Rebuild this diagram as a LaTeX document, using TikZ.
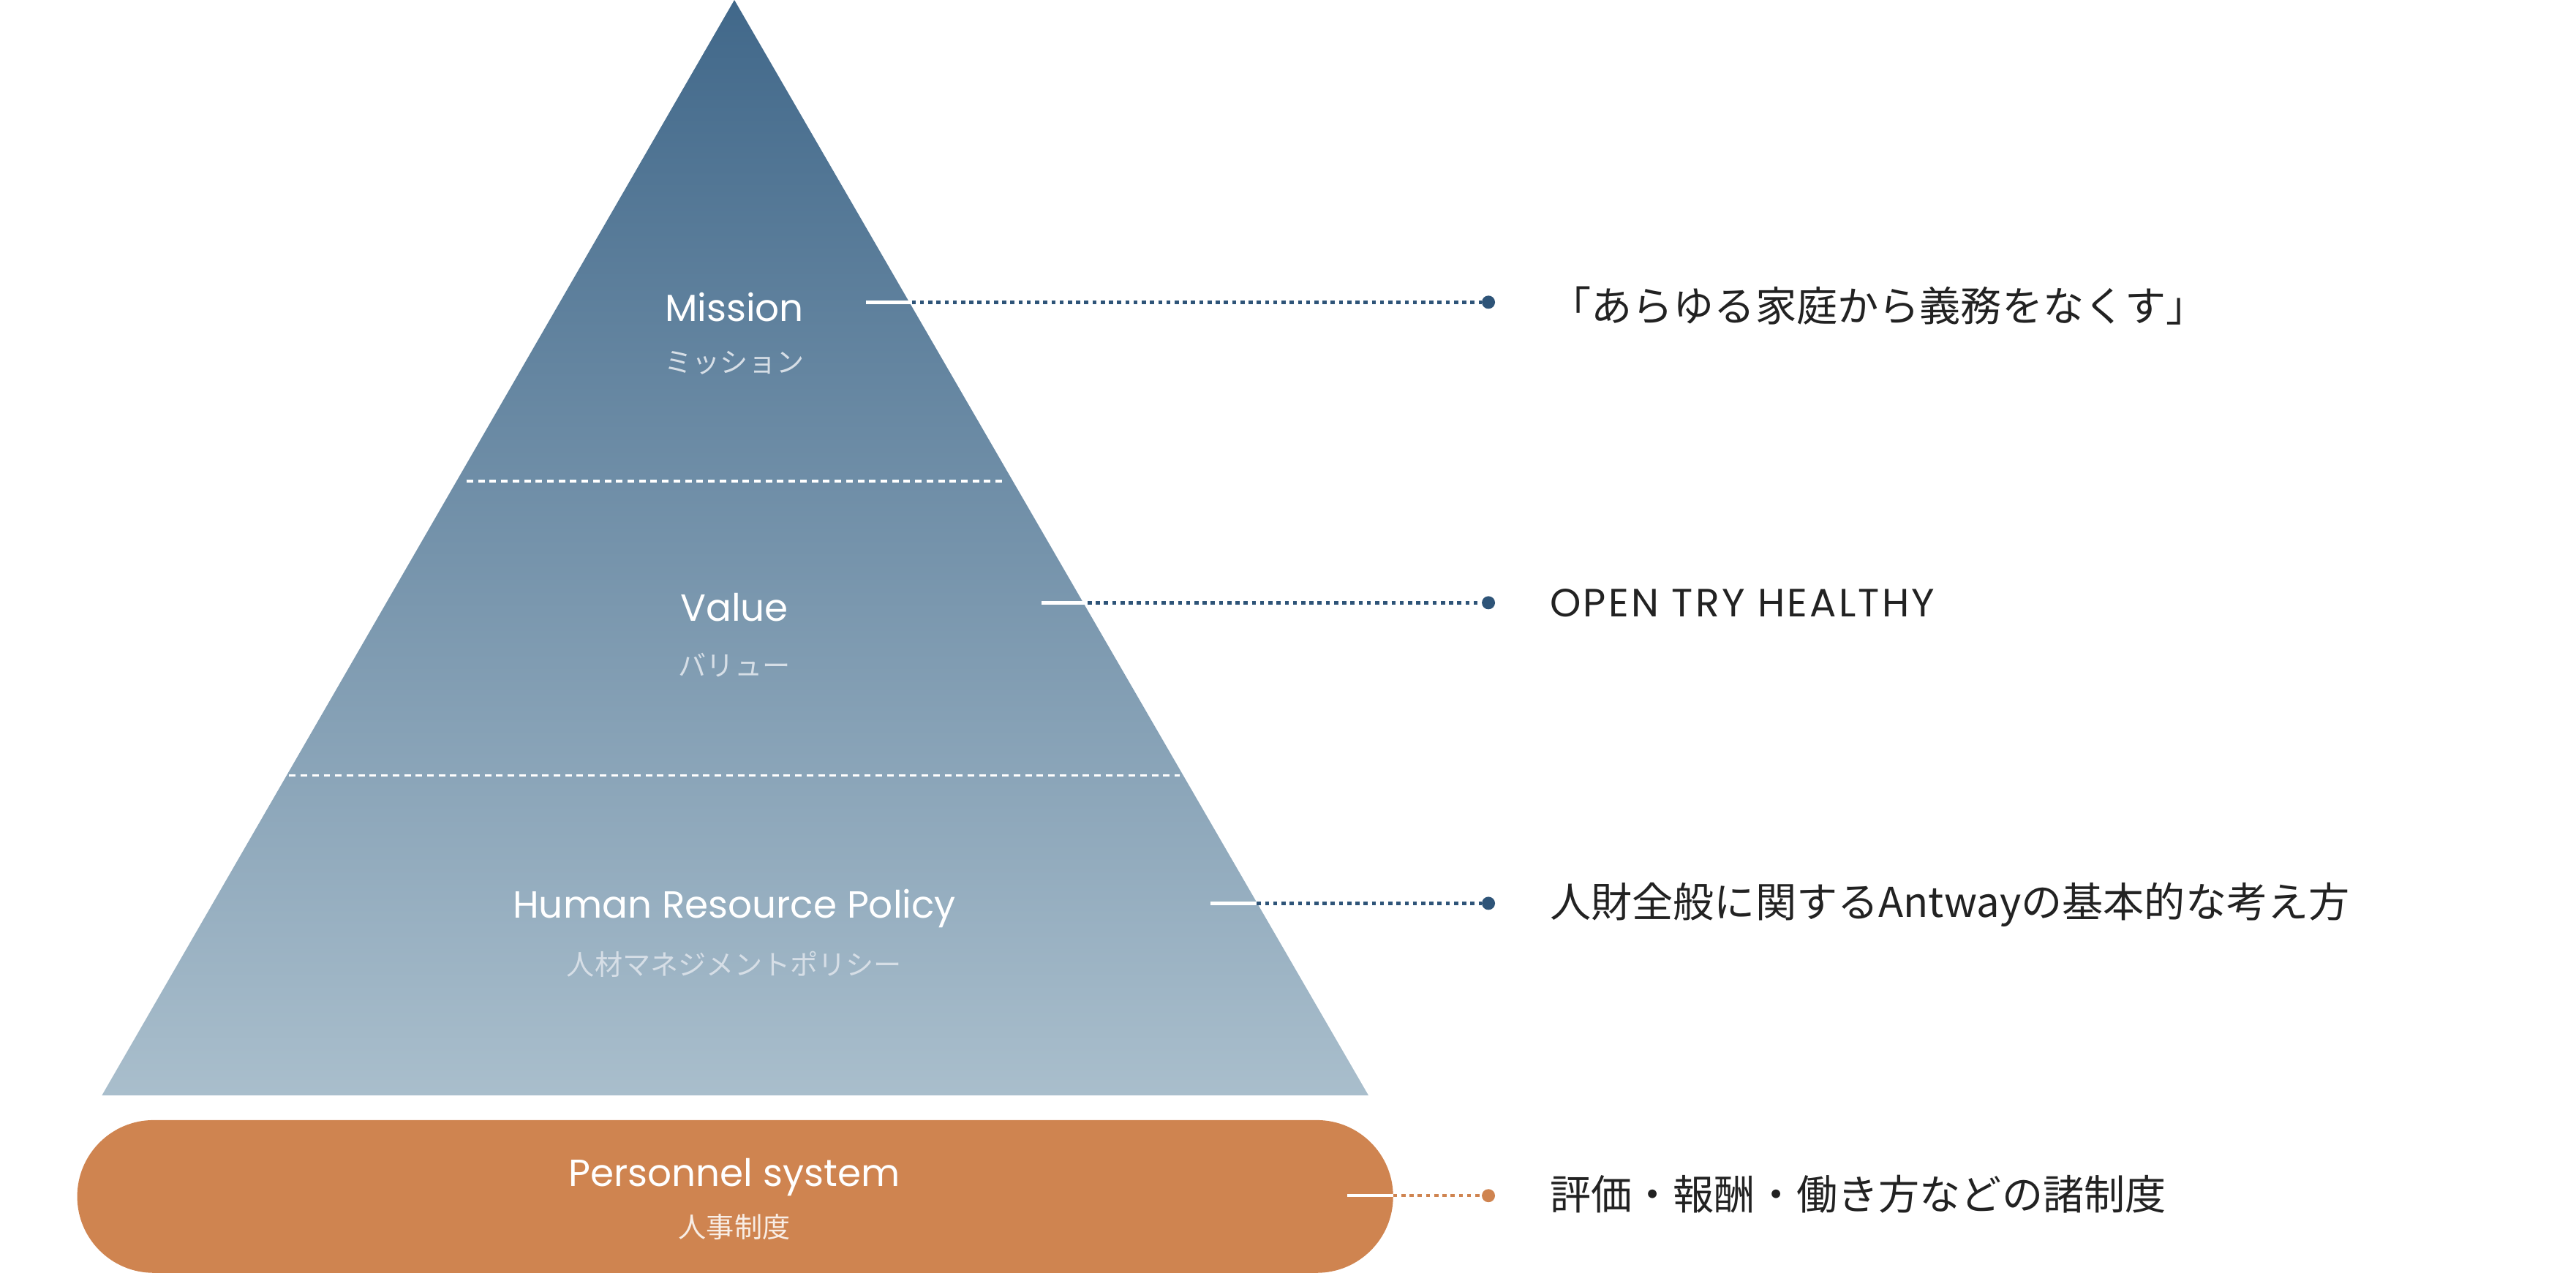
\documentclass[tikz,border=0pt]{standalone}
\usepackage{fontspec}
\setmainfont{Poppins}
\newfontfamily\cjk{Noto Sans CJK JP}
\definecolor{ptop}{HTML}{41688A}
\definecolor{pbot}{HTML}{A9BECC}
\definecolor{sub}{HTML}{D6DEE6}
\definecolor{dotb}{HTML}{2E5478}
\definecolor{orng}{HTML}{CF8450}
\definecolor{txt}{HTML}{222222}
\begin{document}
\begin{tikzpicture}[x=1pt,y=-1pt,
  lab/.style={text=white,font=\fontsize{23}{26}\selectfont,anchor=center},
  sublab/.style={text=sub,font=\cjk\fontsize{17}{20}\selectfont,anchor=center},
  rt/.style={text=txt,font=\cjk\fontsize{25}{30}\selectfont,anchor=west},
  dotc/.style={circle,fill=#1,inner sep=0pt,minimum size=8pt},
  stub/.style={white,line width=2pt},
  dl/.style={#1,line width=2pt,dash pattern=on 2.5pt off 2.5pt}]
\useasboundingbox (0,0) rectangle (1568,775);
\shade[top color=ptop,bottom color=pbot] (447,0) -- (833,667) -- (62,667) -- cycle;
\draw[white,line width=1.5pt,dash pattern=on 4pt off 3pt] (284,293) -- (611,293);
\draw[white,line width=1.5pt,dash pattern=on 4pt off 3pt] (176,472) -- (718,472);
\fill[orng,rounded corners=46.5pt] (47,682) rectangle (848,775);
\node[lab] (m) at (447,187) {Mission};
\node[sublab] (ms) at (447,221) {ミッション};
\node[lab] (v) at (447,370) {Value};
\node[sublab] (vs) at (447,405) {バリュー};
\node[lab] (h) at (447,553) {Human Resource Policy};
\node[sublab] (hs) at (447,587) {人材マネジメントポリシー};
\node[lab] (p) at (447,717) {Personnel system};
\node[sublab,text=white!85!orng] (ps) at (447,747) {人事制度};
\foreach \n/\y/\x/\c in {a/184/527/dotb,b/367/634/dotb,c/550/737/dotb,d/728/820/orng}{
  \coordinate (s\n) at (\x,\y);
  \coordinate (e\n) at (\x+28,\y);
  \node[dotc=\c] (d\n) at (906,\y) {};
  \draw[stub] (s\n) -- (e\n);
  \draw[dl=\c] (e\n) -- (d\n);
}
\node[rt,anchor=west] (ta) at (940,186) {「あらゆる家庭から義務をなくす」};
\node[rt,font=\fontsize{24}{28}\selectfont\addfontfeatures{LetterSpace=6}] (tb) at (940,367) {OPEN TRY HEALTHY};
\node[rt] (tc) at (940,551) {人財全般に関するAntwayの基本的な考え方};
\node[rt] (td) at (940,727) {評価・報酬・働き方などの諸制度};
\end{tikzpicture}
\end{document}
